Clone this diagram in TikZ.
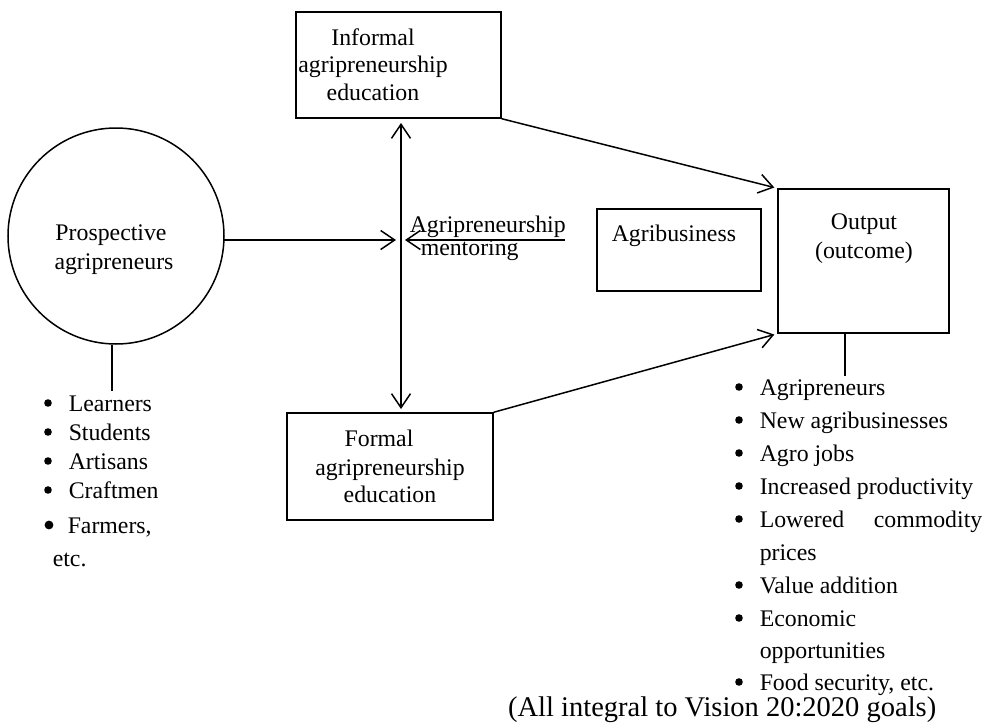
\documentclass[tikz,border=0pt]{standalone}
\usepackage{fontspec}
\setmainfont{Liberation Serif}
\usetikzlibrary{arrows.meta}
\begin{document}
\begin{tikzpicture}[x=1pt,y=-1pt,
  line width=1.5pt,
  txt/.style={font=\fontsize{23.8}{28}\selectfont, inner sep=0pt, anchor=base west},
  ctxt/.style={txt, anchor=base},
  bul/.style={circle, fill=black, inner sep=0pt, minimum size=7.6pt},
  bigtxt/.style={font=\fontsize{28.5}{33}\selectfont, inner sep=0pt, anchor=base east},
  boxn/.style={draw, line width=1.5pt, inner sep=0pt},
  arr/.style={-{Straight Barb[length=14pt,width=19pt]}, line width=1.5pt},
  darr/.style={{Straight Barb[length=14pt,width=19pt]}-{Straight Barb[length=14pt,width=19pt]}, line width=1.5pt},
]
\useasboundingbox (0,0) rectangle (986,723);
\fill[white] (0,0) rectangle (986,723);

% shapes
\node[boxn, minimum width=205pt, minimum height=106pt] (inf) at (398.5,65) {};
\node[boxn, minimum width=206pt, minimum height=107pt] (form) at (390,466.5) {};
\node[boxn, minimum width=164pt, minimum height=82pt] (agb) at (679,250) {};
\node[boxn, minimum width=171pt, minimum height=144pt] (out) at (863.5,261) {};
\node[draw, circle, line width=1.5pt, minimum size=216pt, inner sep=0pt] (c) at (116,236) {};

% texts in shapes
\node[ctxt] (inf1) at (373,45) {Informal};
\node[ctxt] (inf2) at (373,72.7) {agripreneurship};
\node[ctxt] (inf3) at (373,100) {education};
\node[ctxt] (for1) at (379,446) {Formal};
\node[ctxt] (for2) at (390,475) {agripreneurship};
\node[ctxt] (for3) at (390,502) {education};
\node[ctxt] (pro1) at (111,240) {Prospective};
\node[ctxt] (pro2) at (114,269) {agripreneurs};
\node[txt] (men1) at (409,232) {Agripreneurship};
\node[txt] (men2) at (420,255) {mentoring};
\node[txt] (agbt) at (611,241) {Agribusiness};
\node[ctxt] (out1) at (864,229) {Output};
\node[ctxt] (out2) at (864,258) {(outcome)};

% left list
\node[bul] (lb1) at (48,403) {};
\node[txt] (lt1) at (68,411) {Learners};
\node[bul] (lb2) at (48,432) {};
\node[txt] (lt2) at (68,440) {Students};
\node[bul] (lb3) at (48,461) {};
\node[txt] (lt3) at (68,469) {Artisans};
\node[bul] (lb4) at (48,490) {};
\node[txt] (lt4) at (68,498) {Craftmen};
\node[bul, minimum size=8.8pt] (lb5) at (49,525) {};
\node[txt] (lt5) at (67,533) {Farmers,};
\node[txt] (lt6) at (52,566) {etc.};

% right list
\node[bul] (rb1) at (739,387) {};
\node[txt] (rt1) at (759,395) {Agripreneurs};
\node[bul] (rb2) at (739,420) {};
\node[txt] (rt2) at (759,428) {New agribusinesses};
\node[bul] (rb3) at (739,453) {};
\node[txt] (rt3) at (759,461) {Agro jobs};
\node[bul] (rb4) at (739,486) {};
\node[txt] (rt4) at (759,494) {Increased productivity};
\node[bul] (rb5) at (739,519) {};
\node[txt] (rt5) at (759,527) {Lowered};
\node[txt, anchor=base east] (rt5b) at (983,527) {commodity};
\node[txt] (rt6) at (759,560) {prices};
\node[bul] (rb7) at (739,585) {};
\node[txt] (rt7) at (759,593) {Value addition};
\node[bul] (rb8) at (739,618) {};
\node[txt] (rt8) at (759,626) {Economic};
\node[txt] (rt9) at (759,658) {opportunities};
\node[bul] (rb10) at (739,682) {};
\node[txt] (rt10) at (759,690) {Food security, etc.};
\node[bigtxt] (goal) at (937,716) {(All integral to Vision 20:2020 goals)};

% connector end points
\coordinate (cE) at (223.8,240);
\coordinate (hTip) at (396,240);
\coordinate (vTop) at (401,123);
\coordinate (vBot) at (401,409);
\coordinate (mStart) at (565,240);
\coordinate (mTip) at (405,240);
\coordinate (cL) at (112,391);
\coordinate (oL) at (845,376);

% connectors
\draw[arr] (cE) -- (hTip);
\draw[darr] (vTop) -- (vBot);
\draw[arr] (mStart) -- (mTip);
\draw[arr, shorten >=3pt] (inf.south east) -- (out.north west);
\draw[arr, shorten >=3pt] (form.north east) -- (out.south west);
\draw (cL |- c.south) -- (cL);
\draw (oL |- out.south) -- (oL);
\end{tikzpicture}
\end{document}
